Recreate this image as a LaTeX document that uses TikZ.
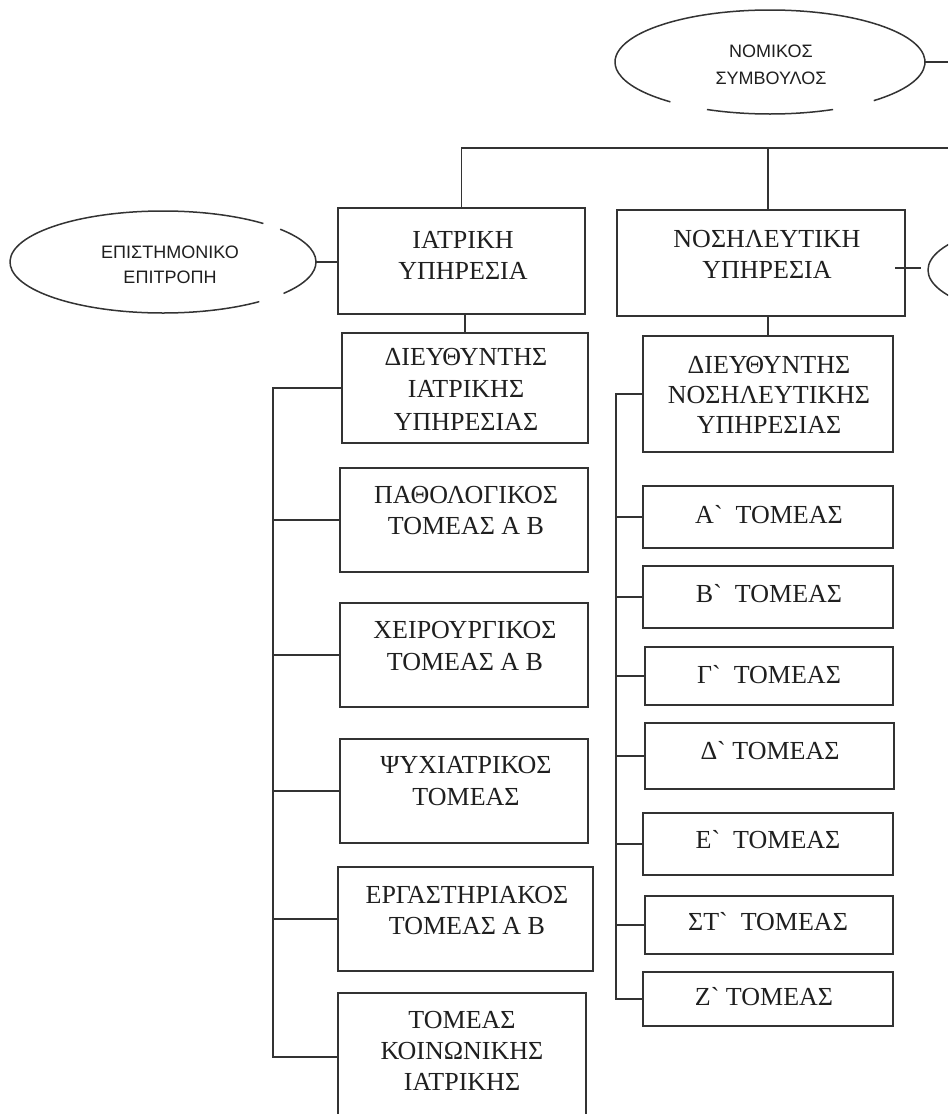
\documentclass[tikz,border=0pt]{standalone}
\usepackage{fontspec}
\newfontfamily\bxf{Liberation Serif}
\newfontfamily\elf{Liberation Sans}
\usetikzlibrary{shapes.geometric}
\begin{document}
\begin{tikzpicture}[x=1pt,y=-1pt,
  ln/.style={line width=1.5pt, draw=black!80},
  box/.style={ln, rectangle, inner sep=0pt},
  ell/.style={ellipse, inner sep=0pt, draw=none},
  btxt/.style={font=\bxf\fontsize{26}{31}\selectfont, text=black!88, align=center, anchor=north, inner sep=0pt},
  etxt/.style={font=\elf\fontsize{18}{27}\selectfont, text=black!88, align=center, anchor=north, inner sep=0pt}]
\useasboundingbox[fill=white] (0,0) rectangle (948,1114);
\clip (0,0) rectangle (948,1114);

% ellipses
\node[ell, minimum width=310pt, minimum height=104pt] (nom) at (770,62) {};
\node[ell, minimum width=306pt, minimum height=102pt] (epi) at (163,262) {};
\node[ell, minimum width=306pt, minimum height=102pt, ln] (rel) at (1081,270) {};
\draw[ln] ([shift={(312:155pt and 52pt)}]nom.center) arc[start angle=312, end angle=590, x radius=155pt, y radius=52pt];
\draw[ln] ([shift={(246:155pt and 52pt)}]nom.center) arc[start angle=246, end angle=294, x radius=155pt, y radius=52pt];
\draw[ln] ([shift={(49:153pt and 51pt)}]epi.center) arc[start angle=49, end angle=309, x radius=153pt, y radius=51pt];
\draw[ln] ([shift={(322:153pt and 51pt)}]epi.center) arc[start angle=322, end angle=400, x radius=153pt, y radius=51pt];
\node[etxt] (nomt) at (771,43) {\rule{0pt}{14pt}ΝΟΜΙΚΟΣ\\ΣΥΜΒΟΥΛΟΣ};
\node[etxt, font=\elf\fontsize{18}{25}\selectfont] (epit) at (170,244) {\rule{0pt}{14pt}ΕΠΙΣΤΗΜΟΝΙΚΟ\\ΕΠΙΤΡΟΠΗ};

% left column boxes
\node[box, minimum width=247pt, minimum height=106pt] (iatr) at (461.5,261) {};
\node[box, minimum width=246pt, minimum height=110pt] (dI) at (465,388) {};
\node[box, minimum width=248pt, minimum height=104pt] (pa) at (464,520) {};
\node[box, minimum width=248pt, minimum height=104pt] (xe) at (464,655) {};
\node[box, minimum width=248pt, minimum height=104pt] (ps) at (464,791) {};
\node[box, minimum width=255pt, minimum height=104pt] (er) at (465.5,919) {};
\node[box, minimum width=248pt, minimum height=128pt] (ko) at (462,1057) {};

% right column boxes
\node[box, minimum width=288pt, minimum height=106pt] (nos) at (761,263) {};
\node[box, minimum width=250pt, minimum height=116pt] (dN) at (768,394) {};
\node[box, minimum width=250pt, minimum height=62pt] (a) at (768,517) {};
\node[box, minimum width=250pt, minimum height=62pt] (b) at (768,597) {};
\node[box, minimum width=248pt, minimum height=58pt] (g) at (769,676) {};
\node[box, minimum width=249pt, minimum height=66pt] (d) at (769.5,756) {};
\node[box, minimum width=250pt, minimum height=62pt] (e) at (768,844) {};
\node[box, minimum width=248pt, minimum height=58pt] (st) at (769,925) {};
\node[box, minimum width=250pt, minimum height=54pt] (z) at (768,999) {};

% texts
\node[btxt] (iatrt) at (463,230) {\rule{0pt}{18pt}ΙΑΤΡΙΚΗ\\ΥΠΗΡΕΣΙΑ};
\node[btxt, font=\bxf\fontsize{26}{32.5}\selectfont] (dIt) at (466,347) {\rule{0pt}{18pt}ΔΙΕΥΘΥΝΤΗΣ\\ΙΑΤΡΙΚΗΣ\\ΥΠΗΡΕΣΙΑΣ};
\node[btxt] (pat) at (466,485) {\rule{0pt}{18pt}ΠΑΘΟΛΟΓΙΚΟΣ\\ΤΟΜΕΑΣ Α Β};
\node[btxt, font=\bxf\fontsize{26}{32}\selectfont] (xet) at (465,620) {\rule{0pt}{18pt}ΧΕΙΡΟΥΡΓΙΚΟΣ\\ΤΟΜΕΑΣ Α Β};
\node[btxt, font=\bxf\fontsize{26}{32}\selectfont] (pst) at (466,755) {\rule{0pt}{18pt}ΨΥΧΙΑΤΡΙΚΟΣ\\ΤΟΜΕΑΣ};
\node[btxt] (ert) at (467,885) {\rule{0pt}{18pt}ΕΡΓΑΣΤΗΡΙΑΚΟΣ\\ΤΟΜΕΑΣ Α Β};
\node[btxt] (kot) at (462,1010) {\rule{0pt}{18pt}ΤΟΜΕΑΣ\\ΚΟΙΝΩΝΙΚΗΣ\\ΙΑΤΡΙΚΗΣ};
\node[btxt] (nost) at (767,229) {\rule{0pt}{18pt}ΝΟΣΗΛΕΥΤΙΚΗ\\ΥΠΗΡΕΣΙΑ};
\node[btxt, font=\bxf\fontsize{26}{30}\selectfont] (dNt) at (769,355) {\rule{0pt}{18pt}ΔΙΕΥΘΥΝΤΗΣ\\ΝΟΣΗΛΕΥΤΙΚΗΣ\\ΥΠΗΡΕΣΙΑΣ};
\node[btxt] (at) at (769,505) {\rule{0pt}{18pt}Α`\ \ ΤΟΜΕΑΣ};
\node[btxt] (bt) at (769,584) {\rule{0pt}{18pt}Β`\ \ ΤΟΜΕΑΣ};
\node[btxt] (gt) at (769,665) {\rule{0pt}{18pt}Γ`\ \ ΤΟΜΕΑΣ};
\node[btxt] (dt) at (770,741) {\rule{0pt}{18pt}Δ` ΤΟΜΕΑΣ};
\node[btxt] (et) at (768,830) {\rule{0pt}{18pt}Ε`\ \ ΤΟΜΕΑΣ};
\node[btxt] (stt) at (768,912) {\rule{0pt}{18pt}ΣΤ`\ \ ΤΟΜΕΑΣ};
\node[btxt] (zt) at (764,987) {\rule{0pt}{18pt}Ζ` ΤΟΜΕΑΣ};

% connectors
\coordinate (tr) at (948,148);
\coordinate (lx) at (273,0);
\coordinate (rx) at (616,0);
\coordinate (tk1) at (895,268);
\coordinate (tk2) at (921,268);
\draw[ln] (nom.east) -- (nom.east -| tr);
\draw[ln] (iatr.north) |- (tr);
\draw[ln] (nos.north -| dN.north) -- (dN.north |- tr);
\draw[ln] (epi.east) -- (epi.east -| iatr.west);
\draw[ln] (tk1) -- (tk2);
\draw[ln] (dI.north) -- (dI.north |- iatr.south);
\draw[ln] (dN.north) -- (dN.north |- nos.south);
\draw[ln] (dI.west) -- (dI.west -| lx) -- (ko.west -| lx) -- (ko.west);
\foreach \n in {pa,xe,ps,er} \draw[ln] (\n.west) -- (\n.west -| lx);
\draw[ln] (dN.west) -- (dN.west -| rx) -- (z.west -| rx) -- (z.west);
\foreach \n in {a,b,g,d,e,st} \draw[ln] (\n.west) -- (\n.west -| rx);
\end{tikzpicture}
\end{document}
